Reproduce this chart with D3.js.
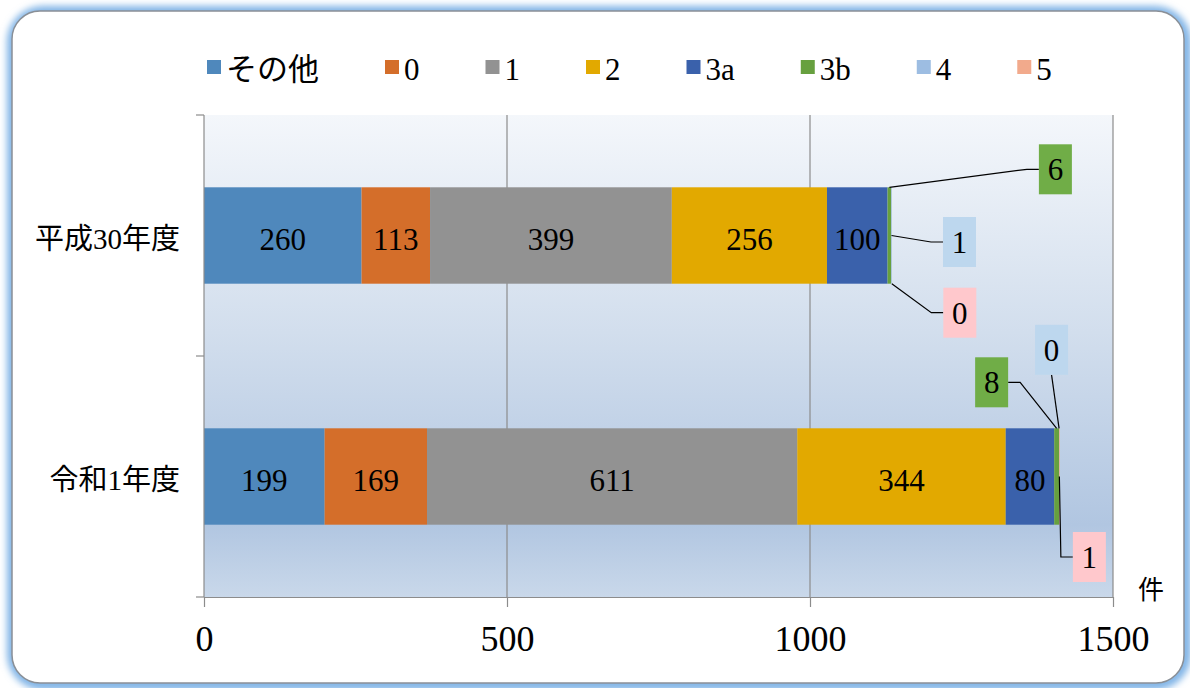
<!DOCTYPE html>
<html><head><meta charset="utf-8">
<script src="https://cdn.jsdelivr.net/npm/d3@7"></script>
<style>
html,body{margin:0;padding:0;background:#fff;}
svg{display:block;}
text{fill:#000;}
</style></head>
<body>
<svg id="c" width="1190" height="688"></svg>
<script>
// ---- data ----
const categories = ["平成30年度", "令和1年度"];
const seriesNames = ["その他", "0", "1", "2", "3a", "3b", "4", "5"];
const valuesH30 = [260, 113, 399, 256, 100, 6, 1, 0];
const valuesR1 = [199, 169, 611, 344, 80, 8, 0, 1];
const xTickValues = [0, 500, 1000, 1500];
const unitLabel = "件";

// ---- styles / layout ----
const SERIF = "'Liberation Serif', 'DejaVu Serif', serif";
const CJK = "'Noto Sans CJK JP', sans-serif";
const seriesColors = ["#4f88bc", "#d46e2a", "#929292", "#e2a900", "#3a61ab", "#67a03f", "#9dbde2", "#f2aa8c"];
const calloutFill = {5: "#70ad47", 6: "#bdd7ee", 7: "#ffc8cc"};
const insideLabelSeries = [0, 1, 2, 3, 4];
const callouts = [
  {c: 0, s: 5, anchor: "top", dx: 166, dy: -18, side: "left"},
  {c: 0, s: 6, anchor: "mid", dx: 68, dy: 6.5, side: "left"},
  {c: 0, s: 7, anchor: "bottom", dx: 68, dy: 29, side: "left"},
  {c: 1, s: 5, anchor: "top", dx: -65, dy: -46, side: "right"},
  {c: 1, s: 6, anchor: "top", dx: -7.5, dy: -78.5, side: "bottom"},
  {c: 1, s: 7, anchor: "mid", dx: 30, dy: 80.5, side: "left"}
];

// writes mixed text: ASCII runs in serif, others in CJK font
function mixedText(sel, str) {
  const parts = str.match(/[\x00-\x7F]+|[^\x00-\x7F]+/g) || [];
  parts.forEach(p => sel.append("tspan")
    .attr("font-family", /^[\x00-\x7F]+$/.test(p) ? SERIF : CJK).text(p));
}

const svg = d3.select("#c");
const defs = svg.append("defs");

const grad = defs.append("linearGradient").attr("id", "bg").attr("x1", 0).attr("y1", 0).attr("x2", 0).attr("y2", 1);
[[0, "#f4f7fb"], [0.45, "#d2deed"], [0.85, "#b1c6e1"], [1, "#c9d8ea"]].forEach(([o, c]) =>
  grad.append("stop").attr("offset", o).attr("stop-color", c));

const flt = defs.append("filter").attr("id", "glow").attr("x", -0.05).attr("y", -0.05).attr("width", 1.1).attr("height", 1.1);
flt.append("feGaussianBlur").attr("stdDeviation", 3.5);

// frame
svg.append("rect").attr("x", 13).attr("y", 12).attr("width", 1172).attr("height", 672).attr("rx", 30)
  .attr("fill", "none").attr("stroke", "#7fb3e6").attr("stroke-width", 12).attr("filter", "url(#glow)");
svg.append("rect").attr("x", 12).attr("y", 11).attr("width", 1172).attr("height", 672).attr("rx", 28)
  .attr("fill", "#fff").attr("stroke", "#8a8f96").attr("stroke-width", 1.5);

// scales
const x = d3.scaleLinear().domain([0, 1500]).range([204, 1113]);
const y = d3.scaleBand().domain(categories).range([115, 597]).padding(0);
const barH = y.bandwidth() * 0.4;
const plotTop = y.range()[0], plotBottom = y.range()[1];

// plot background
svg.append("rect").attr("x", x(0)).attr("y", plotTop).attr("width", x(1500) - x(0)).attr("height", plotBottom - plotTop)
  .attr("fill", "url(#bg)");

// gridlines
svg.append("g").selectAll("line").data(xTickValues.filter(d => d > 0)).join("line")
  .attr("x1", d => x(d)).attr("x2", d => x(d)).attr("y1", plotTop).attr("y2", plotBottom)
  .attr("stroke", "#8c8c8c").attr("stroke-width", 1.2);

// stacked data
const table = categories.map((c, i) => {
  const row = {cat: c};
  const vals = i === 0 ? valuesH30 : valuesR1;
  seriesNames.forEach((s, j) => row[s] = vals[j]);
  return row;
});
const stacked = d3.stack().keys(seriesNames)(table);

const bars = svg.append("g");
stacked.forEach((layer, si) => {
  bars.append("g").attr("fill", seriesColors[si]).selectAll("rect").data(layer).join("rect")
    .attr("x", d => x(d[0])).attr("width", d => x(d[1]) - x(d[0]))
    .attr("y", d => y(d.data.cat) + (y.bandwidth() - barH) / 2).attr("height", barH);
});

// inside labels
insideLabelSeries.forEach(si => {
  svg.append("g").selectAll("text").data(stacked[si]).join("text")
    .attr("x", d => (x(d[0]) + x(d[1])) / 2)
    .attr("y", d => y(d.data.cat) + y.bandwidth() / 2 + 14)
    .attr("text-anchor", "middle").attr("font-size", 31).attr("font-family", SERIF)
    .text(d => d.data[seriesNames[si]]);
});

// left axis
svg.append("line").attr("x1", x(0)).attr("x2", x(0)).attr("y1", plotTop).attr("y2", plotBottom)
  .attr("stroke", "#8c8c8c").attr("stroke-width", 1.2);
const bounds = [plotTop].concat(categories.map(c => y(c) + y.bandwidth()));
svg.append("g").selectAll("line").data(bounds).join("line")
  .attr("x1", x(0) - 8).attr("x2", x(0)).attr("y1", d => d).attr("y2", d => d)
  .attr("stroke", "#8c8c8c").attr("stroke-width", 1.2);
categories.forEach(c => {
  const t = svg.append("text").attr("x", 180).attr("y", y(c) + y.bandwidth() / 2 + 13)
    .attr("text-anchor", "end").attr("font-size", 29);
  mixedText(t, c);
});

// bottom axis
const axG = svg.append("g").attr("transform", `translate(0,${plotBottom})`)
  .call(d3.axisBottom(x).tickValues(xTickValues).tickSize(10).tickSizeOuter(0).tickFormat(d3.format("d")));
axG.select(".domain").attr("stroke", "#8c8c8c").attr("stroke-width", 1.2);
axG.selectAll(".tick line").attr("stroke", "#8c8c8c").attr("stroke-width", 1.2);
axG.selectAll(".tick text").attr("y", 54).attr("dy", null).attr("font-size", 36)
  .attr("font-family", SERIF).attr("fill", "#000");

svg.append("text").attr("x", 1151).attr("y", 599).attr("text-anchor", "middle")
  .attr("font-size", 26).attr("font-family", CJK).text(unitLabel);

// callouts
const bw = 33, bh = 50;
const cg = svg.append("g");
callouts.forEach(co => {
  const d = stacked[co.s][co.c];
  const ax0 = (x(d[0]) + x(d[1])) / 2;
  const yTop = y(categories[co.c]) + (y.bandwidth() - barH) / 2;
  const ay = co.anchor === "top" ? yTop : co.anchor === "bottom" ? yTop + barH : yTop + barH / 2;
  const cx = ax0 + co.dx, cy = ay + co.dy;
  let pts;
  if (co.side === "left") pts = [[ax0, ay], [cx - bw / 2 - 12, cy], [cx - bw / 2, cy]];
  else if (co.side === "right") pts = [[ax0, ay], [cx + bw / 2 + 12, cy], [cx + bw / 2, cy]];
  else pts = [[ax0, ay], [cx, cy + bh / 2]];
  cg.append("path").attr("d", d3.line()(pts)).attr("fill", "none").attr("stroke", "#000").attr("stroke-width", 1.2);
  cg.append("rect").attr("x", cx - bw / 2).attr("y", cy - bh / 2).attr("width", bw).attr("height", bh)
    .attr("fill", calloutFill[co.s]);
  cg.append("text").attr("x", cx).attr("y", cy + 11).attr("text-anchor", "middle").attr("font-size", 31)
    .attr("font-family", SERIF).text(d.data[seriesNames[co.s]]);
});

// legend
const lg = svg.append("g");
let lx = 207;
seriesNames.forEach((s, i) => {
  lg.append("rect").attr("x", lx).attr("y", 60).attr("width", 14).attr("height", 14).attr("fill", seriesColors[i]);
  const t = lg.append("text").attr("x", lx + 19).attr("y", 80).attr("font-size", 31);
  mixedText(t, s);
  lx = lx + 19 + t.node().getComputedTextLength() + 66;
});
</script>
</body></html>
